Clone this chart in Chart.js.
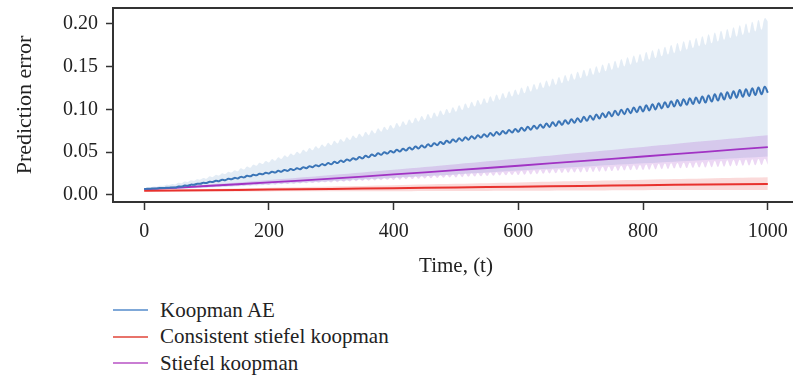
<!DOCTYPE html>
<html>
<head>
<meta charset="utf-8">
<script src="https://cdn.jsdelivr.net/npm/chart.js@4.4.0/dist/chart.umd.min.js"></script>
<style>
  html, body { margin: 0; padding: 0; background: #fff; overflow: hidden; }
  #wrap { position: relative; width: 793px; height: 377px; overflow: hidden; }
  #box { position: absolute; left: 0; top: 0; width: 805px; height: 285px; }
  #error-chart-legend { position: absolute; left: 113px; top: 297px; font-family: 'Liberation Serif', serif; font-size: 21px; color: #222; }
  #error-chart-legend ul { list-style: none; margin: 0; padding: 0; }
  #error-chart-legend li { display: flex; align-items: center; height: 26.5px; white-space: nowrap; }
  #error-chart-legend span { display: inline-block; width: 35px; height: 2px; margin-right: 12px; }
</style>
</head>
<body>
<div id="wrap">
  <div id="box"><canvas id="error-chart" width="805" height="285"></canvas></div>
  <div id="error-chart-legend"></div>
</div>
<script>
(function () {
  'use strict';

  // time axis: fine grid (every 5 steps) for the oscillating curves, coarse grid for the smooth ones
  const tFine = Array.from({ length: 201 }, (_, i) => i * 5);
  const tCoarse = [0, 100, 200, 300, 400, 500, 600, 700, 800, 900, 1000];
  const xTicks = [0, 200, 400, 600, 800, 1000];
  const yTicks = [0.00, 0.05, 0.10, 0.15, 0.20];

  // Koopman AE mean (oscillating)
  const koopmanMean = [
    .0069, .0073, .0073, .0077, .0077, .0081, .0081, .0085, .0085, .0089,
    .0087, .0099, .0098, .0110, .0109, .0121, .0120, .0132, .0131, .0143,
    .0140, .0156, .0151, .0167, .0162, .0178, .0173, .0189, .0184, .0200,
    .0194, .0212, .0206, .0224, .0218, .0236, .0230, .0248, .0242, .0260,
    .0252, .0273, .0262, .0283, .0272, .0293, .0282, .0303, .0292, .0313,
    .0301, .0325, .0313, .0337, .0325, .0349, .0337, .0361, .0349, .0373,
    .0359, .0388, .0373, .0402, .0387, .0416, .0401, .0430, .0415, .0444,
    .0428, .0459, .0442, .0473, .0456, .0487, .0470, .0501, .0484, .0515,
    .0496, .0530, .0508, .0542, .0520, .0554, .0532, .0566, .0544, .0578,
    .0555, .0592, .0569, .0606, .0583, .0620, .0597, .0634, .0611, .0648,
    .0623, .0663, .0635, .0675, .0647, .0687, .0659, .0699, .0671, .0711,
    .0682, .0724, .0694, .0736, .0706, .0748, .0718, .0760, .0730, .0772,
    .0739, .0787, .0751, .0799, .0763, .0811, .0775, .0823, .0787, .0835,
    .0796, .0850, .0808, .0862, .0820, .0874, .0832, .0886, .0844, .0898,
    .0853, .0914, .0867, .0928, .0881, .0942, .0895, .0956, .0909, .0970,
    .0920, .0986, .0932, .0998, .0944, .1010, .0956, .1022, .0968, .1034,
    .0977, .1049, .0989, .1061, .1001, .1073, .1013, .1085, .1025, .1097,
    .1034, .1111, .1044, .1121, .1054, .1131, .1064, .1141, .1074, .1151,
    .1081, .1165, .1093, .1177, .1105, .1189, .1117, .1201, .1129, .1213,
    .1138, .1227, .1148, .1237, .1158, .1247, .1168, .1257, .1178, .1267,
    .1195
  ];

  // Koopman AE upper edge of the shaded band
  const koopmanUpper = [
    .0077, .0088, .0087, .0098, .0097, .0108, .0107, .0118, .0117, .0128,
    .0124, .0143, .0138, .0157, .0152, .0171, .0166, .0185, .0180, .0199,
    .0191, .0218, .0209, .0236, .0227, .0254, .0245, .0272, .0263, .0290,
    .0278, .0313, .0299, .0334, .0320, .0355, .0341, .0376, .0362, .0397,
    .0380, .0421, .0401, .0442, .0422, .0463, .0443, .0484, .0464, .0505,
    .0482, .0528, .0503, .0549, .0523, .0570, .0544, .0590, .0564, .0611,
    .0582, .0634, .0602, .0654, .0622, .0675, .0643, .0695, .0663, .0715,
    .0680, .0738, .0700, .0758, .0720, .0779, .0741, .0799, .0761, .0819,
    .0778, .0842, .0798, .0862, .0818, .0883, .0839, .0903, .0859, .0923,
    .0876, .0946, .0896, .0966, .0916, .0987, .0937, .1007, .0957, .1027,
    .0974, .1050, .0994, .1070, .1014, .1091, .1035, .1111, .1055, .1131,
    .1072, .1154, .1092, .1174, .1112, .1194, .1132, .1214, .1152, .1234,
    .1169, .1257, .1189, .1277, .1209, .1298, .1230, .1318, .1250, .1338,
    .1267, .1361, .1287, .1381, .1307, .1402, .1328, .1422, .1348, .1442,
    .1365, .1465, .1385, .1485, .1405, .1506, .1426, .1526, .1446, .1546,
    .1463, .1569, .1483, .1589, .1503, .1610, .1524, .1630, .1544, .1650,
    .1561, .1673, .1581, .1693, .1601, .1714, .1622, .1734, .1642, .1754,
    .1659, .1777, .1679, .1797, .1699, .1817, .1719, .1837, .1739, .1857,
    .1755, .1881, .1775, .1901, .1795, .1922, .1816, .1942, .1836, .1962,
    .1852, .1986, .1872, .2006, .1892, .2027, .1913, .2047, .1933, .2067,
    .2030
  ];

  // Koopman AE lower edge (mostly hidden under the Stiefel band)
  const koopmanLower = [.0060, .0085, .0120, .0160, .0200, .0240, .0285, .0330, .0370, .0410, .0450];

  // Stiefel koopman
  const stiefelMean = [.0065, .0105, .0147, .0192, .0240, .0290, .0342, .0396, .0450, .0505, .0560];
  const stiefelUpper = [.0065, .0119, .0175, .0234, .0296, .0360, .0426, .0494, .0562, .0631, .0700];
  const stiefelLower = [
    .0059, .0063, .0062, .0066, .0066, .0069, .0069, .0073, .0072, .0076,
    .0075, .0079, .0079, .0082, .0082, .0086, .0085, .0089, .0089, .0092,
    .0089, .0099, .0092, .0102, .0096, .0105, .0099, .0109, .0102, .0112,
    .0106, .0115, .0109, .0119, .0112, .0122, .0115, .0125, .0119, .0128,
    .0118, .0136, .0121, .0139, .0125, .0142, .0128, .0146, .0131, .0149,
    .0135, .0152, .0138, .0156, .0141, .0159, .0144, .0162, .0148, .0165,
    .0147, .0173, .0150, .0176, .0154, .0179, .0157, .0183, .0160, .0186,
    .0164, .0189, .0167, .0193, .0170, .0196, .0173, .0199, .0177, .0202,
    .0176, .0210, .0179, .0213, .0183, .0216, .0186, .0220, .0189, .0223,
    .0193, .0226, .0196, .0230, .0199, .0233, .0202, .0236, .0206, .0239,
    .0205, .0247, .0208, .0250, .0212, .0253, .0215, .0257, .0218, .0260,
    .0222, .0263, .0225, .0267, .0228, .0270, .0231, .0273, .0235, .0276,
    .0234, .0284, .0237, .0287, .0241, .0290, .0244, .0294, .0247, .0297,
    .0251, .0300, .0254, .0304, .0257, .0307, .0260, .0310, .0264, .0313,
    .0263, .0321, .0266, .0324, .0270, .0327, .0273, .0331, .0276, .0334,
    .0280, .0337, .0283, .0341, .0286, .0344, .0289, .0347, .0293, .0350,
    .0292, .0358, .0295, .0361, .0299, .0364, .0302, .0368, .0305, .0371,
    .0309, .0374, .0312, .0378, .0315, .0381, .0318, .0384, .0322, .0387,
    .0321, .0395, .0324, .0398, .0328, .0401, .0331, .0405, .0334, .0408,
    .0338, .0411, .0341, .0415, .0344, .0418, .0347, .0421, .0351, .0424,
    .0354
  ];

  // Consistent stiefel koopman
  const consistentMean = [.0050, .0056, .0063, .0071, .0079, .0088, .0097, .0106, .0115, .0122, .0129];
  const consistentUpper = [.0058, .0071, .0085, .0100, .0115, .0131, .0147, .0163, .0179, .0193, .0207];
  const consistentLower = [.0042, .0041, .0042, .0043, .0045, .0047, .0050, .0053, .0056, .0057, .0059];

  const serif = "'Liberation Serif', 'Times New Roman', serif";
  const textColor = '#222';
  const spineColor = '#333';

  const pts = (ts, vs) => vs.map((v, i) => ({ x: ts[i], y: v }));

  const band = (ts, vs, fillColor, fill, order) => ({
    data: pts(ts, vs),
    borderColor: 'transparent',
    borderWidth: 0,
    backgroundColor: fillColor,
    pointRadius: 0,
    fill: fill,
    order: order,
    isBand: true
  });

  const topSpine = {
    id: 'topSpine',
    afterDraw(chart) {
      const { ctx, chartArea } = chart;
      ctx.save();
      ctx.strokeStyle = spineColor;
      ctx.lineWidth = 2;
      ctx.beginPath();
      ctx.moveTo(chartArea.left - 1, chartArea.top);
      ctx.lineTo(chartArea.right, chartArea.top);
      ctx.stroke();
      ctx.restore();
    }
  };

  const ctx = document.getElementById('error-chart');

  new Chart(ctx, {
    type: 'line',
    data: {
      datasets: [
        band(tCoarse, koopmanLower, 'transparent', false, 11),
        band(tFine, koopmanUpper, 'rgba(58, 117, 185, 0.14)', '-1', 10),
        band(tFine, stiefelLower, 'transparent', false, 9),
        band(tCoarse, stiefelUpper, 'rgba(160, 60, 200, 0.2)', '-1', 8),
        band(tCoarse, consistentLower, 'transparent', false, 7),
        band(tCoarse, consistentUpper, 'rgba(235, 50, 50, 0.18)', '-1', 6),
        {
          label: 'Koopman AE',
          data: pts(tFine, koopmanMean),
          borderColor: '#3b75b7',
          legendColor: '#7fa8d8',
          borderWidth: 2,
          pointRadius: 0,
          fill: false,
          order: 1
        },
        {
          label: 'Consistent stiefel koopman',
          data: pts(tCoarse, consistentMean),
          borderColor: '#e8322e',
          legendColor: '#e8736a',
          borderWidth: 2,
          pointRadius: 0,
          fill: false,
          order: 2
        },
        {
          label: 'Stiefel koopman',
          data: pts(tCoarse, stiefelMean),
          borderColor: '#a133c4',
          legendColor: '#c97dd3',
          borderWidth: 1.8,
          pointRadius: 0,
          fill: false,
          order: 3
        }
      ]
    },
    options: {
      responsive: false,
      animation: false,
      layout: { padding: { top: 8, bottom: 6, left: 0, right: 6 } },
      elements: {
        line: { tension: 0.4 },
        point: { radius: 0 }
      },
      scales: {
        x: {
          type: 'linear',
          min: -50,
          max: 1050,
          afterBuildTicks: (s) => { s.ticks = xTicks.map(v => ({ value: v })); },
          ticks: {
            includeBounds: false,
            maxRotation: 0,
            padding: 10,
            color: textColor,
            font: { family: serif, size: 20 },
            callback: (v) => String(v)
          },
          grid: {
            display: true,
            drawOnChartArea: false,
            drawTicks: true,
            tickLength: 8,
            tickColor: spineColor,
            tickWidth: 1.5
          },
          border: { display: true, color: spineColor, width: 2 },
          title: {
            display: true,
            text: 'Time, (t)',
            color: textColor,
            font: { family: serif, size: 21 },
            padding: { top: 0, bottom: 0 }
          },
          afterFit: (s) => { s.height = 77; s.paddingLeft = 0; s.paddingRight = 0; }
        },
        y: {
          min: -0.0082,
          max: 0.2187,
          afterBuildTicks: (s) => { s.ticks = yTicks.map(v => ({ value: v })); },
          ticks: {
            includeBounds: false,
            padding: 8,
            color: textColor,
            font: { family: serif, size: 20 },
            callback: (v) => Number(v).toFixed(2)
          },
          grid: {
            display: true,
            drawOnChartArea: false,
            drawTicks: true,
            tickLength: 7,
            tickColor: spineColor,
            tickWidth: 1.5
          },
          border: { display: true, color: spineColor, width: 2 },
          title: {
            display: true,
            text: 'Prediction error',
            color: textColor,
            font: { family: serif, size: 22 },
            padding: { top: 12, bottom: 0 }
          },
          afterFit: (s) => { s.width = 113; s.paddingTop = 0; s.paddingBottom = 0; }
        }
      },
      plugins: {
        legend: { display: false },
        tooltip: { enabled: false }
      }
    },
    plugins: [topSpine, {
      id: 'htmlLegend',
      afterUpdate: function (chart) {
        const legend = document.getElementById('error-chart-legend');
        legend.innerHTML = '';
        const ul = document.createElement('ul');
        chart.data.datasets.forEach(dataset => {
          if (dataset.isBand) return;
          ul.innerHTML += `<li><span style="background-color: ${dataset.legendColor}"></span>${dataset.label}</li>`;
        });
        legend.appendChild(ul);
      }
    }]
  });
})();
</script>
</body>
</html>
